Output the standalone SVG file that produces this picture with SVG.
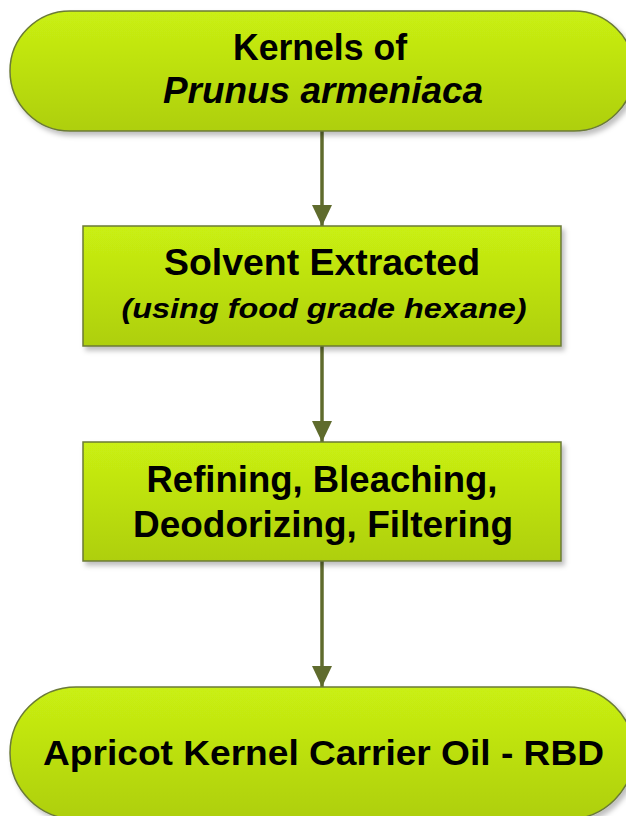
<svg xmlns="http://www.w3.org/2000/svg" width="626" height="816" viewBox="0 0 626 816">
<style>
.node{fill:url(#g);stroke:#6b7a37;stroke-width:1.5;filter:url(#sh)}
.t{font-family:"Liberation Sans",Arial,sans-serif;font-weight:bold;fill:#000;text-anchor:middle}
.i{font-style:italic}
.c{stroke:#5f6b2d;stroke-width:3.5;fill:none;marker-end:url(#ah)}
</style>
<defs>
<linearGradient id="g" x1="0" y1="0" x2="0" y2="1">
<stop offset="0" stop-color="#caf012"/>
<stop offset="1" stop-color="#aecf0e"/>
</linearGradient>
<filter id="sh" x="-10%" y="-10%" width="120%" height="130%">
<feDropShadow dx="3" dy="4" stdDeviation="2.5" flood-color="#000" flood-opacity="0.25"/>
</filter>
<marker id="ah" markerUnits="userSpaceOnUse" markerWidth="22" markerHeight="22" viewBox="0 0 22 22" refX="21" refY="11" orient="auto">
<path d="M0,1 L21,11 L0,21 Z" fill="#5f6b2d"/>
</marker>
</defs>
<g id="connectors">
<line class="c" x1="322" y1="131" x2="322" y2="226"/>
<line class="c" x1="322" y1="346" x2="322" y2="442"/>
<line class="c" x1="322" y1="561" x2="322" y2="687"/>
</g>
<g id="n1">
<rect class="node" x="10" y="11" width="624" height="120" rx="60" ry="60"/>
<text class="t" x="320" y="60" font-size="36" textLength="174" lengthAdjust="spacingAndGlyphs">Kernels of</text>
<text class="t i" x="323" y="103" font-size="36" textLength="320" lengthAdjust="spacingAndGlyphs">Prunus armeniaca</text>
</g>
<g id="n2">
<rect class="node" x="83" y="226" width="478" height="120"/>
<text class="t" x="322" y="275" font-size="36" textLength="316" lengthAdjust="spacingAndGlyphs">Solvent Extracted</text>
<text class="t i" x="324" y="318" font-size="27" textLength="405" lengthAdjust="spacingAndGlyphs">(using food grade hexane)</text>
</g>
<g id="n3">
<rect class="node" x="83" y="442" width="478" height="119"/>
<text class="t" x="322" y="492" font-size="36" textLength="351" lengthAdjust="spacingAndGlyphs">Refining, Bleaching,</text>
<text class="t" x="323" y="537" font-size="36" textLength="380" lengthAdjust="spacingAndGlyphs">Deodorizing, Filtering</text>
</g>
<g id="n4">
<rect class="node" x="10" y="687" width="624" height="132" rx="66" ry="66"/>
<text class="t" x="323.5" y="765" font-size="35" textLength="561" lengthAdjust="spacingAndGlyphs">Apricot Kernel Carrier Oil - RBD</text>
</g>
</svg>
